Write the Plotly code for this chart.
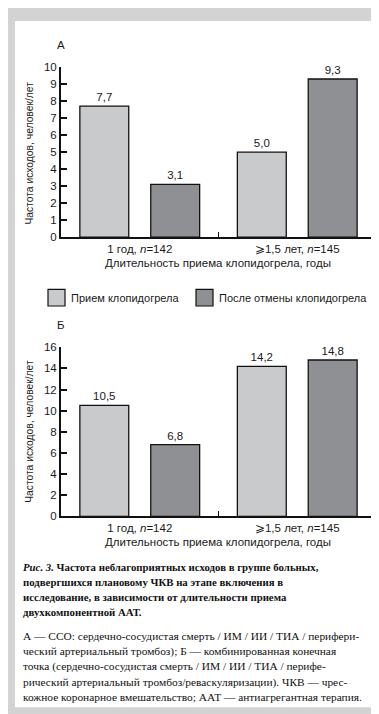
import plotly.graph_objects as go

# ---------------- data ----------------
categories = ["1 год, <i>n</i>=142", "⩾1,5 лет, <i>n</i>=145"]
series_names = ["Прием клопидогрела", "После отмены клопидогрела"]
a_on = [7.7, 5.0]
a_off = [3.1, 9.3]
b_on = [10.5, 14.2]
b_off = [6.8, 14.8]
a_ticks = list(range(0, 11, 1))
b_ticks = list(range(0, 17, 2))

W, H = 379, 714
def X(px):
    return px / W
def Y(py):
    return 1 - py / H

LIGHT = "#c9cacc"
DARK = "#8f9094"
SANS = "Liberation Sans, Arial, sans-serif"
SERIF = "Liberation Serif, Times New Roman, serif"
TXT = "#1a1a1a"

fig = go.Figure()
for vals, name, col in [(a_on, series_names[0], LIGHT), (a_off, series_names[1], DARK)]:
    fig.add_trace(go.Bar(x=categories, y=vals, name=name, marker=dict(color=col, line=dict(color="#111", width=1.3)),
                         texttemplate="%{y:.1f}", textposition="outside", cliponaxis=False,
                         textfont=dict(family=SANS, size=11.5, color=TXT), xaxis="x", yaxis="y", showlegend=False))
for vals, name, col in [(b_on, series_names[0], LIGHT), (b_off, series_names[1], DARK)]:
    fig.add_trace(go.Bar(x=categories, y=vals, name=name, marker=dict(color=col, line=dict(color="#111", width=1.3)),
                         texttemplate="%{y:.1f}", textposition="outside", cliponaxis=False,
                         textfont=dict(family=SANS, size=11.5, color=TXT), xaxis="x2", yaxis="y2", showlegend=False))

xdom = [X(53), X(368)]
xcommon = dict(domain=xdom, type="category", showline=True, linecolor="#111", linewidth=2,
               ticks="inside", tickson="boundaries", ticklen=5, tickwidth=1.3, tickcolor="#111",
               tickfont=dict(family=SANS, size=11.5, color=TXT), showgrid=False, zeroline=False, fixedrange=True)
ycommon = dict(showline=True, linecolor="#111", linewidth=2, ticks="inside", ticklen=6, tickwidth=1.5,
               tickcolor="#111", tickfont=dict(family=SANS, size=11.5, color=TXT), showgrid=False,
               zeroline=False, tickmode="array", fixedrange=True)

fig.update_layout(
    width=W, height=H, margin=dict(l=0, r=0, t=0, b=0),
    paper_bgcolor="#d3d3d3", plot_bgcolor="rgba(0,0,0,0)",
    separators=", ", barmode="group", bargap=0.10, bargroupgap=0.31,
    showlegend=False,
    xaxis=dict(anchor="y", **xcommon),
    yaxis=dict(domain=[Y(227), Y(54)], range=[0, 10], tickvals=a_ticks, anchor="x", **ycommon),
    xaxis2=dict(anchor="y2", **xcommon),
    yaxis2=dict(domain=[Y(511), Y(339)], range=[0, 16], tickvals=b_ticks, anchor="x2", **ycommon),
)

shapes = [dict(type="rect", xref="paper", yref="paper", x0=X(7), x1=X(372), y0=Y(705), y1=Y(7),
               fillcolor="white", line=dict(width=0), layer="below")]
# legend swatches
for x0, col in [(40, LIGHT), (188, DARK)]:
    shapes.append(dict(type="rect", xref="paper", yref="paper", x0=X(x0), x1=X(x0 + 17), y0=Y(297), y1=Y(280),
                       fillcolor=col, line=dict(color="#111", width=1.2)))
fig.update_layout(shapes=shapes)

ann = []
def text(x, y, s, size=11, family=SANS, xanchor="left", angle=0, color=TXT):
    ann.append(dict(x=X(x), y=Y(y), xref="paper", yref="paper", text=s, showarrow=False, xanchor=xanchor,
                    yanchor="middle", textangle=angle, font=dict(family=family, size=size, color=color)))

text(47, 32, "А", size=11.5)
text(47, 316, "Б", size=11.5)
text(22, 142, "Частота исходов, человек/лет", xanchor="center", angle=-90, size=10.3)
text(22, 425, "Частота исходов, человек/лет", xanchor="center", angle=-90, size=10.3)
text(210, 253, "Длительность приема клопидогрела, годы", xanchor="center", size=11.5)
text(210, 537, "Длительность приема клопидогрела, годы", xanchor="center", size=11.5)
text(61, 289, series_names[0], size=11)
text(209, 289, series_names[1], size=11)

cap_bold = [
    "<b><i>Рис. 3.</i> Частота неблагоприятных исходов в группе больных,</b>",
    "<b>подвергшихся плановому ЧКВ на этапе включения в</b>",
    "<b>исследование, в зависимости от длительности приема</b>",
    "<b>двухкомпонентной ААТ.</b>",
]
for i, s in enumerate(cap_bold):
    text(13, 562 + i * 15.5, s, size=10.8, family=SERIF, color="#111")
cap_body = [
    "А — ССО: сердечно-сосудистая смерть / ИМ / ИИ / ТИА / перифери-",
    "ческий артериальный тромбоз); Б — комбинированная конечная",
    "точка (сердечно-сосудистая смерть / ИМ / ИИ / ТИА / перифе-",
    "рический артериальный тромбоз/реваскуляризации). ЧКВ — чрес-",
    "кожное коронарное вмешательство; ААТ — антиагрегантная терапия.",
]
for i, s in enumerate(cap_body):
    text(13, 633 + i * 15.5, s, size=11.4, family=SERIF, color="#111")

fig.update_layout(annotations=ann)
fig.write_html("out.html")
